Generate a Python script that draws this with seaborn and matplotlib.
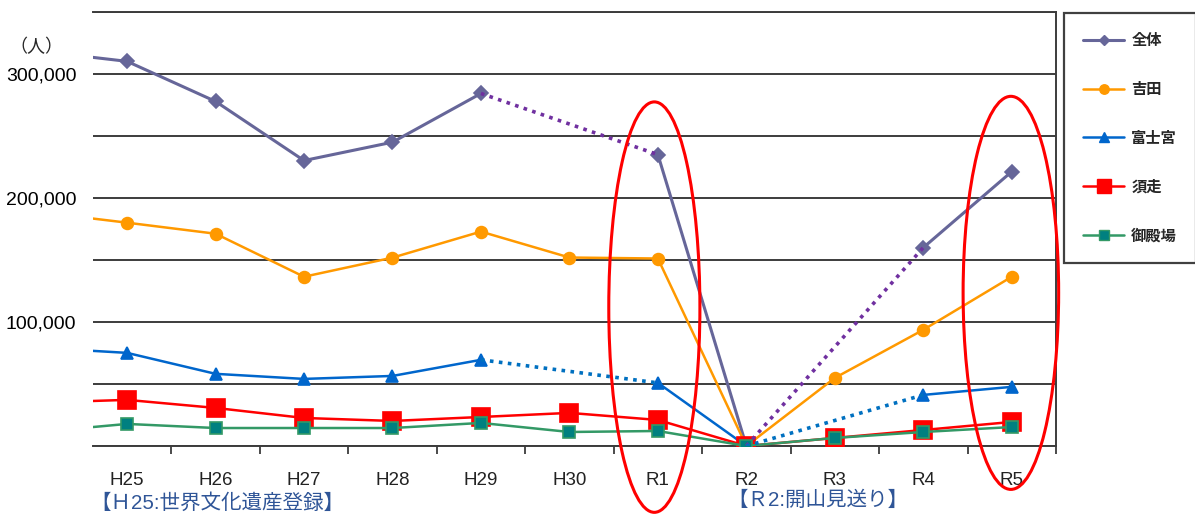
import matplotlib
matplotlib.use("Agg")
import matplotlib.pyplot as plt
import matplotlib.ticker as tkr
from matplotlib.lines import Line2D
from matplotlib.patches import Ellipse
import numpy as np
import pandas as pd
import seaborn as sns

# H24 sits just left of the visible range (the chart is cut off there)
years = ['H24', 'H25', 'H26', 'H27', 'H28', 'H29', 'H30', 'R1', 'R2', 'R3', 'R4', 'R5']
total = [318500, 310200, 277900, 230200, 245000, 284300, np.nan, 235000, 0, np.nan, 160000, 221300]
yoshida = [188700, 180100, 171200, 136500, 151900, 172900, 152000, 151200, 0, 54900, 93700, 136500]
fujinomiya = [79300, 75100, 58200, 54100, 56500, 69500, np.nan, 50900, 0, np.nan, 41200, 47700]
subashiri = [34900, 37200, 30700, 22600, 20200, 23400, 26700, 21000, 0, 6500, 12900, 19400]
gotemba = [11300, 17800, 14500, 14500, 14500, 18600, 11300, 12100, 0, 6500, 11300, 15300]

series_names = ['全体', '吉田', '富士宮', '須走', '御殿場']
series_values = [total, yoshida, fujinomiya, subashiri, gotemba]

styles = {
    '全体': dict(color='#666699', marker='D', ms=7, mfc='#666699', mec='#666699', lw=2.2, bridge='#7030A0'),
    '吉田': dict(color='#FF9900', marker='o', ms=8.5, mfc='#FF9900', mec='#FF9900', lw=1.8, bridge=None),
    '富士宮': dict(color='#0066CC', marker='^', ms=9, mfc='#0066CC', mec='#0066CC', lw=1.8, bridge='#0070C0'),
    '須走': dict(color='#FF0000', marker='s', ms=13, mfc='#FF0000', mec='#FF0000', lw=1.8, bridge=None),
    '御殿場': dict(color='#339966', marker='s', ms=9, mfc='#008080', mec='#339966', lw=1.8, bridge=None),
}

sns.set_style("white")
plt.rcParams['font.family'] = ['Liberation Sans', 'Noto Sans CJK JP']

fig = plt.figure(figsize=(11.95, 5.15), dpi=100)
ax = fig.add_axes([93 / 1195, 1 - 446 / 515, (1056 - 93) / 1195, (446 - 12) / 515])

grid_col = '#3c3c3c'

for name, vals in zip(series_names, series_values):
    st = styles[name]
    df = pd.DataFrame({'idx': range(len(years)), 'value': vals})
    df['seg'] = df['value'].isna().cumsum()
    solid = df.dropna()
    sns.lineplot(data=solid, x='idx', y='value', units='seg', estimator=None, ax=ax,
                 color=st['color'], lw=st['lw'], marker=st['marker'], markersize=st['ms'],
                 markerfacecolor=st['mfc'], markeredgecolor=st['mec'], markeredgewidth=1.2,
                 legend=False, zorder=3)

# dotted bridges over missing years
for name, vals in zip(series_names, series_values):
    st = styles[name]
    if st['bridge'] is None:
        continue
    df = pd.DataFrame({'idx': range(len(years)), 'value': vals})
    gaps = df.index[df['value'].isna()]
    parts = []
    for k, g in enumerate(gaps):
        part = df.loc[[g - 1, g + 1]].copy()
        part['bridge'] = k
        parts.append(part)
    bridges = pd.concat(parts)
    sns.lineplot(data=bridges, x='idx', y='value', units='bridge', estimator=None, ax=ax,
                 color=st['bridge'], lw=2.6, linestyle=(0, (1, 1.5)), legend=False, zorder=5)

# axes
ax.set_xticks(range(len(years)))
ax.set_xticklabels(years)
ax.xaxis.set_minor_locator(tkr.FixedLocator([i + 0.5 for i in range(1, len(years))]))
ax.tick_params(axis='x', which='major', bottom=True, length=0, pad=19, labelsize=13.5,
               labelcolor='#222222')
ax.tick_params(axis='x', which='minor', bottom=True, length=6, width=1.3, color=grid_col,
               direction='out')
ax.set_yticks(range(0, 350001, 50000))
ax.yaxis.set_major_formatter(tkr.FuncFormatter(
    lambda y, p: "{:,}".format(int(y)) if y > 0 and y % 100000 == 0 and y < 350000 else ""))
ax.tick_params(axis='y', length=0, pad=12, labelsize=14, labelcolor='black')
ax.set_xlabel('')
ax.set_ylabel('')
ax.yaxis.grid(True, color=grid_col, lw=1.4)
ax.set_axisbelow(True)
for side in ['top', 'right', 'bottom']:
    ax.spines[side].set_visible(True)
    ax.spines[side].set_color(grid_col)
    ax.spines[side].set_linewidth(1.4)
ax.spines['left'].set_visible(False)

# red ellipses around R1 and R5
r1 = years.index('R1')
r5 = years.index('R5')
ax.add_patch(Ellipse((r1 - 0.04, 112000), 1.03, 331000, fill=False, ec='#FF0000', lw=2.2,
                     clip_on=False, zorder=6))
ax.add_patch(Ellipse((r5 - 0.01, 123500), 1.08, 317000, fill=False, ec='#FF0000', lw=2.2,
                     clip_on=False, zorder=6))
ax.set_xlim(0.615, 11.5)
ax.set_ylim(0, 350000)

# legend
handles = [Line2D([], [], color=styles[n]['color'], lw=styles[n]['lw'], marker=styles[n]['marker'],
                  markersize=styles[n]['ms'] * 0.8, markerfacecolor=styles[n]['mfc'],
                  markeredgecolor=styles[n]['mec']) for n in series_names]
leg = ax.legend(handles, series_names, loc='upper left', bbox_to_anchor=(1064 / 1195, 1 - 13 / 515),
                bbox_transform=fig.transFigure, frameon=True, fancybox=False, edgecolor='#404040',
                framealpha=1, borderpad=1.25, labelspacing=2.15, handlelength=2.7, handletextpad=0.45,
                borderaxespad=0, prop={'family': ['Noto Sans CJK JP'], 'weight': 'bold', 'size': 11})
leg.get_frame().set_linewidth(1.6)

# unit and notes
fig.text(36 / 1195, 1 - 47 / 515, '（人）', ha='center', va='center', fontsize=13,
         family=['Noto Sans CJK JP'])
fig.text(90 / 1195, 1 - 503 / 515, '【Ｈ25:世界文化遺産登録】', ha='left', va='center', fontsize=14.8,
         color='#2F5597')
fig.text(727 / 1195, 1 - 500 / 515, '【Ｒ2:開山見送り】', ha='left', va='center', fontsize=14.8,
         color='#2F5597')

fig.savefig('out.png', dpi=100)
